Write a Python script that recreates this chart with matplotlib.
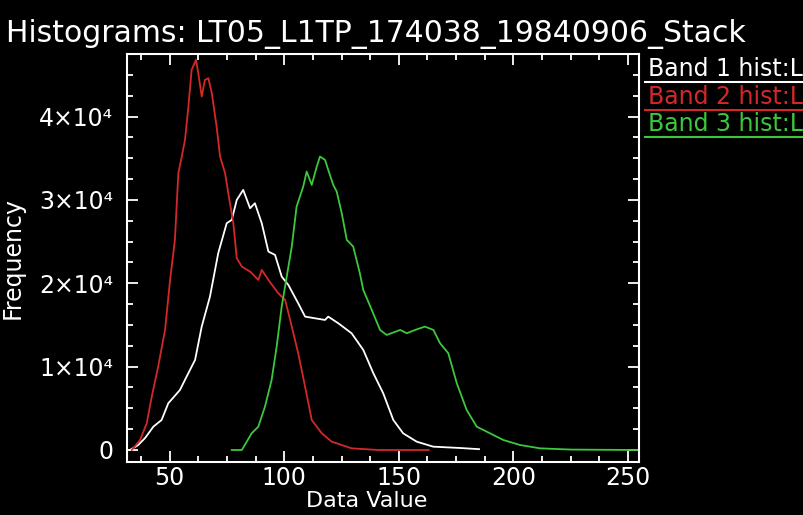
import matplotlib
matplotlib.use('Agg')
import matplotlib.pyplot as plt
from matplotlib.ticker import MultipleLocator, FixedLocator, FixedFormatter
from matplotlib.lines import Line2D

# band histograms (data value -> frequency)
band1_x = [32.7, 36.3, 39.3, 42.9, 46.5, 49.4, 54.5, 57.4, 61.1, 64, 67.6, 71.2, 74.9, 77.1, 79.3,
           82.1, 85.1, 87.2, 90.2, 93.1, 96, 98.9, 101.8, 106.1, 109.1, 113.4, 117.8, 119.2, 123.6,
           129.4, 134.5, 138.9, 143.2, 147.6, 151.9, 157.8, 165, 176.7, 185]
band1_y = [0, 600, 1440, 2800, 3600, 5600, 7200, 8800, 10800, 14800, 18400, 23600, 27200, 27600, 30000,
           31200, 29000, 29600, 27200, 23800, 23400, 20800, 19800, 17600, 16000, 15800, 15600, 16000, 15200,
           14000, 12000, 9200, 6800, 3600, 2000, 1000, 400, 240, 100]

band2_x = [33.5, 37.1, 40, 42.2, 45, 48, 50.2, 52.3, 53.8, 55.3, 56.7, 58.2, 59.6, 61.5, 62.5, 64,
           65.4, 66.9, 68.4, 70.5, 72, 74.2, 75.6, 77.8, 79.3, 81.5, 85.1, 88.7, 90.2, 93.1, 97.4,
           100.4, 103.3, 106.1, 109.1, 112, 116.4, 120.7, 129.4, 141, 163]
band2_y = [0, 1200, 3200, 6400, 10000, 14400, 20400, 25200, 33200, 35200, 37200, 41200, 45600, 46800, 45200, 42400,
           44400, 44600, 42800, 38800, 35200, 33200, 30800, 27200, 23000, 22000, 21400, 20400, 21600, 20400, 18800,
           18000, 14800, 11600, 7600, 3600, 2000, 1000, 200, 0, 0]

band3_x = [77.1, 81.5, 85.8, 88.7, 91.6, 94.5, 96.7, 98.9, 101.1, 103.3, 105.4, 108.3, 109.8, 112, 114.2,
           115.6, 117.8, 119.2, 121.4, 122.9, 125.1, 127.3, 130.1, 133, 134.5, 138.2, 141.8, 144.7, 150.6,
           153.5, 157.1, 161.4, 165.1, 168, 171.6, 175.3, 179.6, 184, 189.8, 195.6, 202.9, 211.6, 225, 254]
band3_y = [0, 0, 2000, 2800, 5200, 8400, 12400, 17200, 20800, 24400, 29200, 31600, 33400, 31800, 34000,
           35200, 34800, 33600, 31800, 31000, 28400, 25200, 24400, 21200, 19200, 16800, 14400, 13800, 14400,
           14000, 14400, 14800, 14400, 12800, 11600, 8000, 4800, 2800, 2000, 1200, 600, 200, 50, 0]

legend_labels = ['Band 1 hist:L', 'Band 2 hist:L', 'Band 3 hist:L']
y_ticks = [0, 10000, 20000, 30000, 40000]
y_tick_labels = ['0', '1\u00d710\u2074', '2\u00d710\u2074', '3\u00d710\u2074', '4\u00d710\u2074']

colors = ['white', '#d42828', '#3cc83c']
FS = 17

plt.rcParams['font.family'] = ['DejaVu Sans']
fig = plt.figure(figsize=(8.04, 5.15), dpi=100, facecolor='black')
ax = fig.add_axes([127 / 804, 1 - 462 / 515, 512 / 804, 408 / 515], facecolor='black')

for xs, ys, c in [(band1_x, band1_y, colors[0]), (band2_x, band2_y, colors[1]), (band3_x, band3_y, colors[2])]:
    ax.plot(xs, ys, color=c, linewidth=1.3)

ax.set_xlim(31.4, 254.8)
ax.set_ylim(-1440, 47500)

ax.xaxis.set_major_locator(MultipleLocator(50))
ax.xaxis.set_minor_locator(MultipleLocator(12.5))
ax.yaxis.set_major_locator(FixedLocator(y_ticks))
ax.yaxis.set_major_formatter(FixedFormatter(y_tick_labels))
ax.yaxis.set_minor_locator(MultipleLocator(2500))

for s in ax.spines.values():
    s.set_color('white')
    s.set_linewidth(1.5)
ax.tick_params(which='both', direction='in', colors='white', top=True, right=True, width=1.3)
ax.tick_params(which='major', length=8, labelsize=FS)
ax.tick_params(which='minor', length=4.5)
ax.tick_params(axis='y', which='major', pad=10)
ax.tick_params(axis='x', which='major', pad=3)

ax.set_xlabel('Data Value', color='white', fontsize=16)
ax.xaxis.set_label_coords((367 - 127) / 512, -0.07)

# y label hugs the left edge
fig.text(13 / 804, 1 - 258 / 515, 'Frequency', rotation=90, color='white', fontsize=FS,
         ha='center', va='center')

fig.text(6 / 804, 1 - 42 / 515, 'Histograms: LT05_L1TP_174038_19840906_Stack', color='white',
         fontsize=21.5, ha='left', va='baseline')

# legend rows with underline, cut off at the right edge
row_y = [69, 96.5, 124]
for lab, c, yy in zip(legend_labels, colors, row_y):
    fig.text(648 / 804, 1 - yy / 515, lab, color=c, fontsize=FS, ha='left', va='center')
    fig.add_artist(Line2D([645 / 804, 1.0], [1 - (yy + 13) / 515] * 2, color=c, linewidth=1.5,
                          transform=fig.transFigure))

fig.savefig('out.png', dpi=100, facecolor='black')
